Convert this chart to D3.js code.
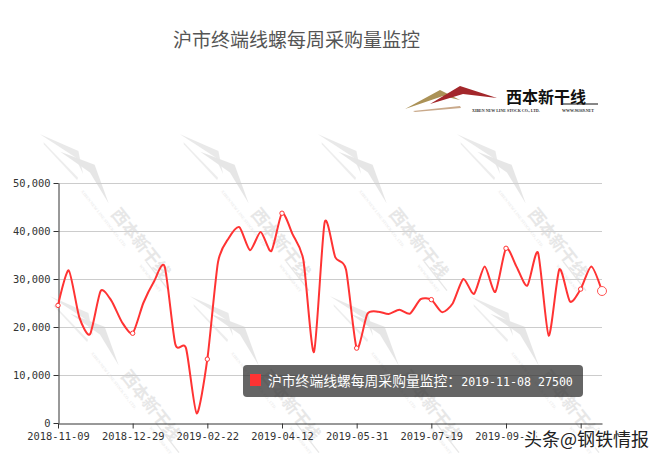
<!DOCTYPE html>
<html>
<head>
<meta charset="utf-8">
<script src="https://cdn.jsdelivr.net/npm/d3@7"></script>
<style>
  body { margin: 0; background: #fff; }
  text { font-family: "DejaVu Sans Mono", monospace; }
</style>
</head>
<body>
<div id="chart"></div>
<script>
const width = 658;
const height = 455;
const marginTop = 183;
const marginLeft = 58;
const plotRight = 602;
const plotBottom = 423;

const title = "沪市终端线螺每周采购量监控";
const seriesName = "沪市终端线螺每周采购量监控";

const dates = [
  "2018-11-09", "2018-11-16", "2018-11-23", "2018-11-30", "2018-12-07", "2018-12-14", "2018-12-21",
  "2018-12-29", "2019-01-04", "2019-01-11", "2019-01-18", "2019-01-25", "2019-02-01", "2019-02-15",
  "2019-02-22", "2019-03-01", "2019-03-08", "2019-03-15", "2019-03-22", "2019-03-29", "2019-04-05",
  "2019-04-12", "2019-04-19", "2019-04-26", "2019-05-03", "2019-05-10", "2019-05-17", "2019-05-24",
  "2019-05-31", "2019-06-06", "2019-06-14", "2019-06-21", "2019-06-28", "2019-07-05", "2019-07-12",
  "2019-07-19", "2019-07-26", "2019-08-02", "2019-08-09", "2019-08-16", "2019-08-23", "2019-08-30",
  "2019-09-06", "2019-09-13", "2019-09-20", "2019-09-27", "2019-10-04", "2019-10-11", "2019-10-18",
  "2019-10-25", "2019-11-01", "2019-11-08"
];
const values = [
  24500, 31800, 22000, 18500, 27500, 25500, 21000,
  18700, 25000, 29500, 32600, 16400, 15600, 2000,
  13300, 33500, 38500, 40800, 36000, 39800, 35800,
  43700, 39300, 34000, 14800, 41800, 34500, 32000,
  15600, 22700, 23200, 22700, 23600, 22800, 25800,
  25700, 23100, 24900, 30000, 26900, 32600, 27300,
  36400, 32500, 28600, 35500, 18200, 32000, 25300,
  27900, 32600, 27500
];
const yTicks = [0, 10000, 20000, 30000, 40000, 50000];
// label under the corner watermark is not visible in the source
const xLabels = dates.filter((d, i) => i % 7 === 0 && i < 49);
const hoverIndex = 51;

const data = dates.map((d, i) => ({ date: d, value: values[i] }));

const x = d3.scalePoint()
    .domain(dates)
    .range([marginLeft, plotRight]);
const y = d3.scaleLinear()
    .domain([0, 50000])
    .range([plotBottom, marginTop]);

const svg = d3.select("#chart")
    .append("svg")
        .attr("width", width)
        .attr("height", height);

// title
svg.append("text")
    .attr("x", 173)
    .attr("y", 47)
    .attr("fill", "#555")
    .style("font-family", "'Noto Sans CJK SC', sans-serif")
    .style("font-size", "19px")
    .text(title);

// logo
function drawLogo(g, gray) {
  g.append("path")
      .attr("d", "M-138,13 L-103,-6 L-83,4 L-100,0 Z")
      .attr("fill", gray ? "#d4d4d4" : "#ab9257");
  g.append("path")
      .attr("d", "M-113,8 L-83,-10 L-46,2 L-80,-2 Z")
      .attr("fill", gray ? "#cfcfcf" : "#a3272b");
  g.append("path")
      .attr("d", "M-130,15 L-83,10 L-82,12 L-128,16 Z")
      .attr("fill", gray ? "#dcdcdc" : "#c9a98a");
  g.append("text")
      .attr("x", -37)
      .attr("y", 7)
      .attr("fill", gray ? "#d0d0d0" : "#111")
      .style("font-family", "'Noto Sans CJK SC', sans-serif")
      .style("font-weight", "bold")
      .style("font-size", "16px")
      .text("西本新干线");
  g.append("line")
      .attr("x1", 20).attr("x2", 55)
      .attr("y1", 8).attr("y2", 8)
      .attr("stroke", gray ? "#d0d0d0" : "#111")
      .attr("stroke-width", 1.2);
  g.append("text")
      .attr("x", -71)
      .attr("y", 16)
      .attr("fill", gray ? "#ddd" : "#333")
      .style("font-family", "'Liberation Serif', serif")
      .style("font-size", "4px")
      .style("font-weight", "bold")
      .text("XIBEN NEW LINE STOCK CO., LTD.");
  g.append("text")
      .attr("x", 19)
      .attr("y", 16)
      .attr("fill", gray ? "#ddd" : "#333")
      .style("font-family", "'Liberation Serif', serif")
      .style("font-size", "4px")
      .style("font-weight", "bold")
      .text("WWW.96369.NET");
}
drawLogo(svg.append("g").attr("transform", "translate(543,96)"), false);

// grid lines
svg.append("g")
    .selectAll("line")
    .data(yTicks.filter(d => d > 0))
    .join("line")
        .attr("x1", marginLeft)
        .attr("x2", plotRight)
        .attr("y1", d => y(d) + 0.5)
        .attr("y2", d => y(d) + 0.5)
        .attr("stroke", "#ccc")
        .attr("stroke-width", 1);

// watermarks
const marks = [[140, 240], [280, 240], [418, 240], [557, 240], [150, 402], [290, 402], [430, 402], [570, 402]];
marks.forEach(([mx, my]) => {
  const g = svg.append("g")
      .attr("transform", `translate(${mx},${my}) rotate(52) scale(1.05)`)
      .attr("opacity", 0.5);
  drawLogo(g, true);
});

// y axis
svg.append("g")
    .attr("transform", `translate(${marginLeft + 0.5},0)`)
    .call(d3.axisLeft(y)
        .tickValues(yTicks)
        .tickFormat(d3.format(","))
        .tickSize(5)
        .tickSizeOuter(0)
        .tickPadding(3))
    .call(g => g.selectAll("path,line").attr("stroke", "#333"))
    .call(g => g.selectAll("text")
        .attr("fill", "#333")
        .style("font-family", "'DejaVu Sans Mono', monospace")
        .style("font-size", "10.4px"));

// x axis
svg.append("g")
    .attr("transform", `translate(0,${plotBottom + 0.5})`)
    .call(d3.axisBottom(x)
        .tickValues(dates.filter((d, i) => i % 7 === 0))
        .tickFormat(d => xLabels.includes(d) ? d : "")
        .tickSize(5)
        .tickSizeOuter(0)
        .tickPadding(4))
    .call(g => g.selectAll("path,line").attr("stroke", "#333"))
    .call(g => g.selectAll("text")
        .attr("fill", "#333")
        .style("font-family", "'DejaVu Sans Mono', monospace")
        .style("font-size", "10.4px"));

// line
const line = d3.line()
    .x(d => x(d.date))
    .y(d => y(d.value))
    .curve(d3.curveCardinal.tension(0.3));

svg.append("path")
    .datum(data)
    .attr("fill", "none")
    .attr("stroke", "#ff3333")
    .attr("stroke-width", 2)
    .attr("d", line);

// symbols
svg.append("g")
    .selectAll("circle")
    .data(data.filter((d, i) => i % 7 === 0))
    .join("circle")
        .attr("cx", d => x(d.date))
        .attr("cy", d => y(d.value))
        .attr("r", 2.2)
        .attr("fill", "#fff")
        .attr("stroke", "#ff3333")
        .attr("stroke-width", 1);

const hovered = data[hoverIndex];
svg.append("circle")
    .attr("cx", x(hovered.date))
    .attr("cy", y(hovered.value))
    .attr("r", 4.5)
    .attr("fill", "#fff")
    .attr("stroke", "#ff5555")
    .attr("stroke-width", 1);

// tooltip
const tip = svg.append("g").attr("transform", "translate(243,365)");
tip.append("rect")
    .attr("width", 340)
    .attr("height", 32)
    .attr("rx", 4)
    .attr("fill", "rgba(50,50,50,0.75)");
tip.append("rect")
    .attr("x", 7)
    .attr("y", 9)
    .attr("width", 11)
    .attr("height", 12)
    .attr("fill", "#ff3333");
const tipText = tip.append("text")
    .attr("x", 25)
    .attr("y", 21)
    .attr("fill", "#fff");
tipText.append("tspan")
    .style("font-family", "'Noto Sans CJK SC', sans-serif")
    .style("font-size", "13.8px")
    .text(seriesName + "：");
tipText.append("tspan")
    .style("font-family", "'DejaVu Sans Mono', monospace")
    .style("font-size", "11.6px")
    .text(hovered.date + " " + hovered.value);

// corner watermark
svg.append("text")
    .attr("x", 524)
    .attr("y", 446)
    .attr("fill", "#222")
    .attr("stroke", "#fff")
    .attr("stroke-width", 3)
    .attr("paint-order", "stroke")
    .style("font-family", "'Noto Sans CJK SC', sans-serif")
    .style("font-size", "18px")
    .text("头条@钢铁情报");
</script>
</body>
</html>
